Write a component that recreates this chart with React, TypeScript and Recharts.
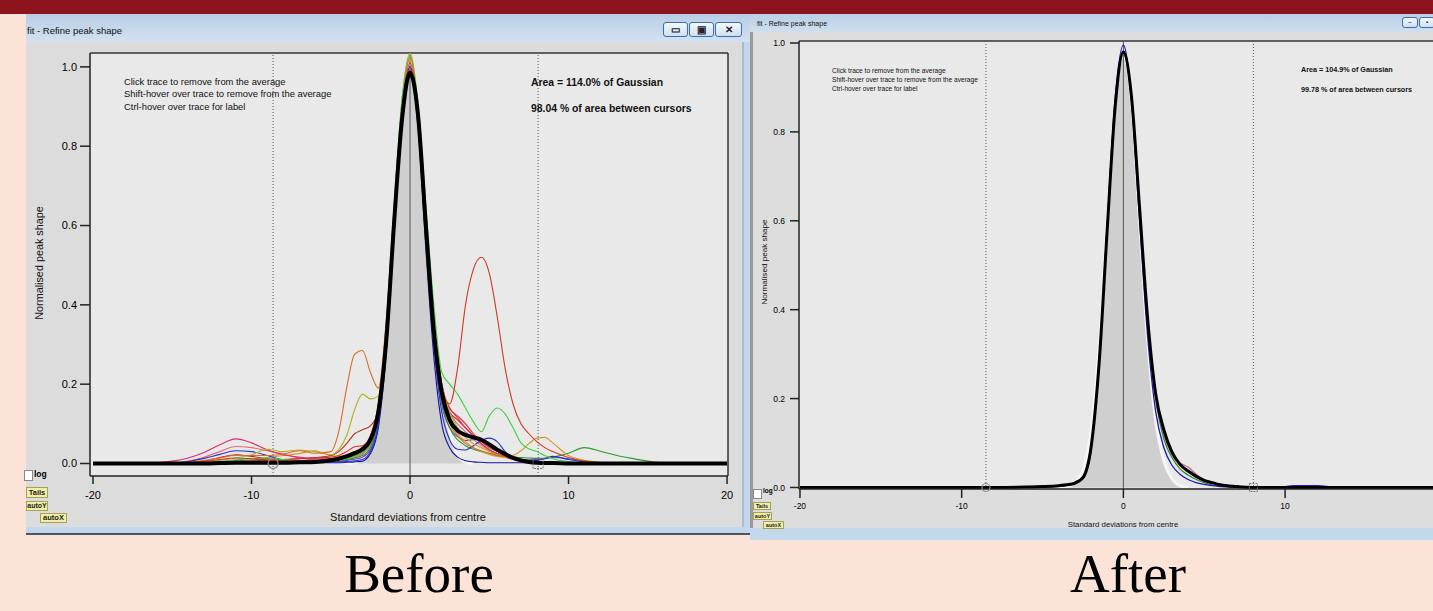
import React from 'react';
import {
  ComposedChart,
  Line,
  Area,
  XAxis,
  YAxis,
  ReferenceLine,
  ReferenceDot,
  CartesianGrid,
} from 'recharts';

const _ = null;

const beforeXTicks = [-20, -10, 0, 10, 20];
const afterXTicks = [-20, -10, 0, 10];
const yTicks = [0, 0.2, 0.4, 0.6, 0.8, 1.0];

// ---------- "Before" panel: shared x grid (standard deviations) ----------
const beforeX = [
  -20, -17, -15, -14, -13, -12, -11, -10, -9, -8,
  -7, -6, -5, -4.5, -4, -3.5, -3, -2.5, -2, -1.5,
  -1, -0.5, 0, 0.5, 1, 1.5, 2, 2.5, 3, 3.5,
  4, 4.5, 5, 5.5, 6, 6.5, 7, 7.5, 8, 8.5,
  9, 10, 11, 12, 13, 14, 15, 16, 20,
];

const beforeAvg = [
  0, 0, 0, 0, 0, 0.001, 0.002, 0.002, 0.002, 0.002,
  0.003, 0.004, 0.008, 0.012, 0.018, 0.026, 0.036, 0.06, 0.13, 0.31,
  0.61, 0.87, 0.985, 0.88, 0.6, 0.335, 0.18, 0.11, 0.083, 0.072,
  0.066, 0.06, 0.048, 0.035, 0.024, 0.014, 0.008, 0.004, 0.002, 0.001,
  0.001, 0, 0, 0, 0, 0, 0, 0, 0,
];

const beforeGauss = [
  _, _, _, _, _, _, _, _, _, _,
  _, _, _, _, 0, 0.002, 0.01, 0.04, 0.13, 0.32,
  0.6, 0.87, 0.98, 0.88, 0.62, 0.36, 0.18, 0.08, 0.02, 0.003,
  0, _, _, _, _, _, _, _, _, _,
  _, _, _, _, _, _, _, _, _,
];

const beforeRed = [
  _, _, 0, 0.002, 0.005, 0.01, 0.014, 0.012, 0.009, 0.007,
  0.007, 0.009, 0.012, 0.016, 0.022, 0.03, 0.042, 0.07, 0.15, 0.34,
  0.63, 0.89, 1.01, 0.88, 0.6, 0.34, 0.19, 0.15, 0.24, 0.4,
  0.49, 0.52, 0.48, 0.37, 0.24, 0.15, 0.1, 0.075, 0.055, 0.04,
  0.03, 0.015, 0.006, 0.002, 0, _, _, _, _,
];

const beforeOrange = [
  _, _, 0, 0.003, 0.008, 0.014, 0.02, 0.02, 0.02, 0.024,
  0.032, 0.026, 0.03, 0.08, 0.19, 0.275, 0.285, 0.23, 0.19, 0.36,
  0.64, 0.9, 1.025, 0.89, 0.6, 0.33, 0.17, 0.1, 0.07, 0.05,
  0.04, 0.032, 0.026, 0.02, 0.016, 0.012, 0.008, 0.006, 0.004, 0.003,
  0.002, 0, _, _, _, _, _, _, _,
];

const beforeOlive = [
  _, _, _, 0, 0.004, 0.008, 0.014, 0.022, 0.036, 0.03,
  0.034, 0.03, 0.022, 0.035, 0.07, 0.135, 0.175, 0.163, 0.17, 0.35,
  0.65, 0.92, 1.035, 0.9, 0.62, 0.36, 0.2, 0.13, 0.09, 0.065,
  0.05, 0.04, 0.03, 0.022, 0.016, 0.012, 0.008, 0.005, 0.003, 0.002,
  0.001, 0, _, _, _, _, _, _, _,
];

const beforeBrown = [
  _, _, _, 0, 0.006, 0.015, 0.022, 0.018, 0.012, 0.01,
  0.012, 0.015, 0.02, 0.03, 0.05, 0.075, 0.085, 0.095, 0.13, 0.33,
  0.62, 0.88, 1.0, 0.88, 0.61, 0.36, 0.2, 0.13, 0.11, 0.09,
  0.07, 0.05, 0.035, 0.025, 0.018, 0.012, 0.008, 0.005, 0.003, 0.002,
  0.001, 0, _, _, _, _, _, _, _,
];

const beforePink = [
  _, 0, 0.006, 0.014, 0.028, 0.047, 0.062, 0.052, 0.034, 0.022,
  0.016, 0.012, 0.012, 0.013, 0.016, 0.02, 0.028, 0.05, 0.13, 0.32,
  0.61, 0.88, 0.995, 0.87, 0.6, 0.35, 0.19, 0.14, 0.115, 0.09,
  0.07, 0.05, 0.035, 0.025, 0.018, 0.012, 0.008, 0.005, 0.003, 0.002,
  0.001, 0, _, _, _, _, _, _, _,
];

const beforeRose = [
  _, _, 0, 0.006, 0.016, 0.03, 0.043, 0.04, 0.032, 0.024,
  0.014, 0.009, 0.008, 0.009, 0.012, 0.016, 0.024, 0.045, 0.12, 0.31,
  0.6, 0.87, 0.99, 0.87, 0.6, 0.35, 0.2, 0.13, 0.1, 0.08,
  0.06, 0.045, 0.032, 0.022, 0.015, 0.01, 0.006, 0.004, 0.002, 0.001,
  0, _, _, _, _, _, _, _, _,
];

const beforeBlue = [
  _, _, 0, 0.005, 0.013, 0.023, 0.032, 0.03, 0.02, 0.009,
  0.005, 0.003, 0.003, 0.004, 0.005, 0.007, 0.01, 0.03, 0.1, 0.3,
  0.6, 0.88, 1.0, 0.86, 0.56, 0.3, 0.13, 0.06, 0.036, 0.034,
  0.045, 0.058, 0.064, 0.055, 0.03, 0.015, 0.01, 0.008, 0.008, 0.012,
  0.018, 0.01, 0.004, 0, _, _, _, _, _,
];

const beforeGreen = [
  _, _, _, 0, 0.002, 0.005, 0.009, 0.012, 0.014, 0.01,
  0.006, 0.005, 0.006, 0.008, 0.012, 0.018, 0.026, 0.05, 0.14, 0.35,
  0.65, 0.92, 1.03, 0.91, 0.65, 0.4, 0.23, 0.2, 0.175, 0.14,
  0.105, 0.08, 0.12, 0.14, 0.125, 0.09, 0.052, 0.037, 0.03, 0.02,
  0.012, 0.005, 0, _, _, _, _, _, _,
];

const beforeDarkGreen = [
  _, _, _, _, 0, 0.003, 0.006, 0.008, 0.008, 0.006,
  0.005, 0.005, 0.006, 0.007, 0.01, 0.014, 0.02, 0.04, 0.12, 0.31,
  0.6, 0.87, 0.99, 0.87, 0.59, 0.33, 0.16, 0.09, 0.06, 0.045,
  0.036, 0.03, 0.025, 0.021, 0.018, 0.016, 0.015, 0.014, 0.013, 0.013,
  0.016, 0.026, 0.04, 0.031, 0.021, 0.013, 0.006, 0.001, _,
];

const beforeGold = [
  _, _, _, _, _, 0, 0.003, 0.008, 0.015, 0.02,
  0.025, 0.032, 0.02, 0.018, 0.02, 0.025, 0.032, 0.055, 0.14, 0.34,
  0.63, 0.9, 1.02, 0.89, 0.61, 0.34, 0.17, 0.105, 0.075, 0.055,
  0.04, 0.03, 0.023, 0.018, 0.016, 0.02, 0.032, 0.05, 0.064, 0.066,
  0.052, 0.02, 0.008, 0.003, 0, _, _, _, _,
];

const beforePurple = [
  _, _, _, _, 0, 0.004, 0.008, 0.008, 0.006, 0.005,
  0.004, 0.004, 0.005, 0.006, 0.008, 0.011, 0.016, 0.035, 0.11, 0.3,
  0.59, 0.87, 0.99, 0.87, 0.58, 0.32, 0.15, 0.09, 0.068, 0.058,
  0.06, 0.06, 0.05, 0.035, 0.022, 0.014, 0.01, 0.009, 0.01, 0.013,
  0.015, 0.012, 0.005, 0, _, _, _, _, _,
];

const beforeNavy = [
  _, _, _, _, _, 0, 0.002, 0.003, 0.003, 0.002,
  0.002, 0.002, 0.002, 0.002, 0.003, 0.004, 0.006, 0.025, 0.09, 0.28,
  0.58, 0.87, 0.99, 0.85, 0.54, 0.27, 0.1, 0.04, 0.016, 0.007,
  0.004, 0.003, 0.002, 0.002, 0.002, 0.002, 0.002, 0.002, 0.002, 0.002,
  0.001, 0, _, _, _, _, _, _, _,
];

const beforeScarlet = [
  _, _, _, _, _, 0, 0.004, 0.006, 0.008, 0.01,
  0.012, 0.014, 0.016, 0.02, 0.03, 0.042, 0.045, 0.06, 0.13, 0.33,
  0.62, 0.89, 1.0, 0.88, 0.61, 0.36, 0.2, 0.14, 0.12, 0.1,
  0.075, 0.055, 0.04, 0.03, 0.02, 0.013, 0.008, 0.005, 0.004, 0.003,
  0.002, 0, _, _, _, _, _, _, _,
];

const beforeTraces = [
  { key: 'navy', color: '#1414a0', values: beforeNavy },
  { key: 'purple', color: '#8a3cc8', values: beforePurple },
  { key: 'rose', color: '#e86878', values: beforeRose },
  { key: 'darkGreen', color: '#2a9a2a', values: beforeDarkGreen },
  { key: 'gold', color: '#d6982c', values: beforeGold },
  { key: 'brown', color: '#b43222', values: beforeBrown },
  { key: 'scarlet', color: '#e42a2a', values: beforeScarlet },
  { key: 'pink', color: '#d4306c', values: beforePink },
  { key: 'blue', color: '#2434d0', values: beforeBlue },
  { key: 'olive', color: '#b0b020', values: beforeOlive },
  { key: 'green', color: '#3cd23c', values: beforeGreen },
  { key: 'orange', color: '#dd6a2c', values: beforeOrange },
  { key: 'red', color: '#cc3a22', values: beforeRed },
];

const beforeCursors = [-8.64, 8.08];

// ---------- "After" panel ----------
const afterX = [
  -20, -15, -10, -8, -6, -5, -4, -3.5, -3, -2.5,
  -2, -1.5, -1, -0.5, 0, 0.5, 1, 1.5, 2, 2.5,
  3, 3.5, 4, 4.5, 5, 5.5, 6, 7, 8, 10,
  10.5, 12, 13, 16, 20,
];

const afterAvg = [
  0, 0, 0, 0, 0.001, 0.002, 0.004, 0.006, 0.01, 0.022,
  0.09, 0.28, 0.58, 0.86, 0.98, 0.88, 0.63, 0.38, 0.21, 0.13,
  0.08, 0.052, 0.037, 0.025, 0.016, 0.011, 0.006, 0.002, 0, 0,
  0, 0, 0, 0, 0,
];

const afterGauss = [
  _, _, _, _, _, _, 0, 0.002, 0.01, 0.04,
  0.13, 0.32, 0.6, 0.87, 0.97, 0.87, 0.6, 0.33, 0.15, 0.06,
  0.02, 0.004, 0, _, _, _, _, _, _, _,
  _, _, _, _, _,
];

const afterBlue = [
  _, _, _, _, 0.001, 0.002, 0.003, 0.005, 0.008, 0.02,
  0.085, 0.28, 0.59, 0.88, 0.995, 0.87, 0.6, 0.34, 0.17, 0.09,
  0.05, 0.03, 0.018, 0.011, 0.007, 0.004, 0.002, 0.001, 0.001, 0.002,
  0.004, 0.004, 0, _, _,
];

const afterGreen = [
  _, _, _, _, _, 0.002, 0.004, 0.006, 0.01, 0.022,
  0.09, 0.285, 0.59, 0.87, 0.975, 0.875, 0.62, 0.37, 0.2, 0.11,
  0.068, 0.042, 0.028, 0.018, 0.011, 0.006, 0.003, 0.001, 0, _,
  _, _, _, _, _,
];

const afterMauve = [
  _, _, _, _, _, _, _, _, 0.012, 0.025,
  0.095, 0.29, 0.59, 0.87, 0.98, 0.88, 0.63, 0.38, 0.21, 0.12,
  0.075, 0.055, 0.046, 0.03, 0.016, 0.008, 0.004, 0.001, 0, _,
  _, _, _, _, _,
];

const afterTraces = [
  { key: 'green', color: '#2a8a2a', values: afterGreen },
  { key: 'mauve', color: '#b06878', values: afterMauve },
  { key: 'blue', color: '#1c1cb4', values: afterBlue },
];

const afterCursors = [-8.5, 8.04];

function buildRows(xs, avg, gauss, traces) {
  return xs.map((x, i) => {
    const row: any = { x, avg: avg[i], gauss: gauss[i] };
    traces.forEach((t) => {
      row[t.key] = t.values[i];
    });
    return row;
  });
}

const beforeRows = buildRows(beforeX, beforeAvg, beforeGauss, beforeTraces);
const afterRows = buildRows(afterX, afterAvg, afterGauss, afterTraces);

const FONT = '"Liberation Sans", Arial, sans-serif';

function PeakPanel(props) {
  const {
    rows, traces, width, height, margin, yAxisWidth, xDomain, yDomain, cursors, xTicks,
    tickFont, xTickLen, yTickLen, xTickGap, yTickGap, avgWidth, traceWidth,
    rightBorder, markerSize,
  } = props;
  const tickStyle = { fontSize: tickFont, fill: '#000', fontFamily: FONT };
  return (
    <ComposedChart width={width} height={height} data={rows} margin={margin}>
      <CartesianGrid horizontal={false} vertical={false} fill="#e9e9e9" />
      <XAxis
        type="number"
        dataKey="x"
        domain={xDomain}
        allowDataOverflow
        ticks={xTicks}
        interval={0}
        height={30}
        tickSize={xTickLen}
        tickMargin={xTickGap}
        axisLine={{ stroke: '#222', strokeWidth: 1.5 }}
        tickLine={{ stroke: '#222', strokeWidth: 1.5 }}
        tick={tickStyle}
      />
      <YAxis
        type="number"
        domain={yDomain}
        allowDataOverflow
        ticks={yTicks}
        interval={0}
        width={yAxisWidth}
        tickSize={yTickLen}
        tickMargin={yTickGap}
        tickFormatter={(v) => v.toFixed(1)}
        axisLine={{ stroke: '#222', strokeWidth: 1.5 }}
        tickLine={{ stroke: '#222', strokeWidth: 1.5 }}
        tick={tickStyle}
      />
      <ReferenceLine y={yDomain[1]} stroke="#333" strokeWidth={1.5} ifOverflow="visible" />
      {rightBorder && (
        <ReferenceLine x={xDomain[1]} stroke="#333" strokeWidth={1.5} ifOverflow="visible" />
      )}
      <Area
        type="monotone"
        dataKey="gauss"
        baseValue={0}
        fill="#cfcfcf"
        fillOpacity={1}
        stroke="#f6f6f6"
        strokeWidth={3}
        dot={false}
        activeDot={false}
        isAnimationActive={false}
      />
      <ReferenceLine x={0} stroke="#555" strokeWidth={1} />
      {cursors.map((c) => (
        <ReferenceLine key={c} x={c} stroke="#555" strokeDasharray="1 2" strokeWidth={1} />
      ))}
      {traces.map((t) => (
        <Line
          key={t.key}
          type="monotone"
          dataKey={t.key}
          stroke={t.color}
          strokeWidth={traceWidth}
          dot={false}
          activeDot={false}
          isAnimationActive={false}
        />
      ))}
      <Line
        type="monotone"
        dataKey="avg"
        stroke="#000"
        strokeWidth={avgWidth}
        dot={false}
        activeDot={false}
        isAnimationActive={false}
      />
      <ReferenceDot x={cursors[0]} y={0} r={markerSize / 2} fill="none" stroke="#8c8c8c" strokeWidth={1.2} />
      <ReferenceDot
        x={cursors[1]}
        y={0}
        r={markerSize / 2}
        shape={(p) => (
          <rect
            x={p.cx - markerSize / 2}
            y={p.cy - markerSize / 2}
            width={markerSize}
            height={markerSize}
            fill="none"
            stroke="#777"
            strokeDasharray="2 1"
            strokeWidth={1}
          />
        )}
      />
    </ComposedChart>
  );
}

const Txt = ({ x, cy, size, bold = false, center = false, children }) => (
  <div
    style={{
      position: 'absolute',
      left: x,
      top: cy - size * 0.6,
      fontSize: size,
      lineHeight: `${size * 1.2}px`,
      fontWeight: bold ? 700 : 400,
      whiteSpace: 'nowrap',
      color: '#111',
      transform: center ? 'translateX(-50%)' : undefined,
    }}
  >
    {children}
  </div>
);

const VTxt = ({ x, cy, size, children }) => (
  <div
    style={{
      position: 'absolute',
      left: x,
      top: cy,
      fontSize: size,
      whiteSpace: 'nowrap',
      color: '#111',
      transform: 'translate(-50%, -50%) rotate(-90deg)',
    }}
  >
    {children}
  </div>
);

const YellowBtn = ({ x, y, w, h, size, label }) => (
  <div
    style={{
      position: 'absolute',
      left: x,
      top: y,
      width: w,
      height: h,
      background: '#f1efa6',
      border: '1px solid #a4a25a',
      fontSize: size,
      lineHeight: `${h - 2}px`,
      fontWeight: 700,
      color: '#222',
      textAlign: 'center',
      boxSizing: 'border-box',
      whiteSpace: 'nowrap',
    }}
  >
    {label}
  </div>
);

const WinBtn = ({ x, y, w, h, glyph }) => (
  <div
    style={{
      position: 'absolute',
      left: x,
      top: y,
      width: w,
      height: h,
      border: '1px solid #3c6ea8',
      borderRadius: 3,
      background: 'linear-gradient(#f4f8fc, #cfdff0)',
      boxSizing: 'border-box',
      fontSize: h - 5,
      lineHeight: `${h - 2}px`,
      textAlign: 'center',
      color: '#223',
      fontWeight: 700,
    }}
  >
    {glyph}
  </div>
);

export default function App() {
  return (
    <div
      style={{
        position: 'absolute',
        left: 0,
        top: 0,
        width: 1433,
        height: 611,
        overflow: 'hidden',
        background: '#fbe4d7',
        fontFamily: FONT,
      }}
    >
      <div style={{ position: 'absolute', left: 0, top: 0, width: 1433, height: 14, background: '#8b141f' }} />

      {/* After window (behind) */}
      <div style={{ position: 'absolute', left: 750, top: 14, width: 700, height: 526, background: '#c4d8ec' }}>
        <div style={{ position: 'absolute', left: 0, top: 0, width: 700, height: 18, background: 'linear-gradient(#b9cee5, #d0dfee)' }} />
        <div style={{ position: 'absolute', left: 0, top: 18, width: 700, height: 496, background: '#dddddd', borderLeft: '3px solid #9a9a9a', boxSizing: 'border-box' }}>
          <div style={{ position: 'absolute', left: 0, top: 457, width: 7, height: 8, background: '#fff', border: '1px solid #888' }} />
          <div style={{ position: 'absolute', left: 10, top: 455, fontSize: 6.5, fontWeight: 700 }}>log</div>
          <YellowBtn x={0} y={470} w={18} h={8} size={5.5} label="Tails" />
          <YellowBtn x={0} y={480} w={19} h={8} size={5.5} label="autoY" />
          <YellowBtn x={10} y={489} w={21} h={8} size={5.5} label="autoX" />
        </div>
        <WinBtn x={652} y={3} w={16} h={11} glyph="–" />
        <WinBtn x={669} y={3} w={16} h={11} glyph="▪" />
      </div>
      <Txt x={757} cy={24} size={7}>fit - Refine peak shape</Txt>
      <div style={{ position: 'absolute', left: 752, top: 32 }}>
        <PeakPanel
          rows={afterRows}
          traces={afterTraces}
          width={720}
          height={500}
          margin={{ top: 9, right: 21, bottom: 13, left: 12 }}
          yAxisWidth={35}
          xDomain={[-20.06, 20.26]}
          yDomain={[-0.0034, 1.0045]}
          xTicks={afterXTicks}
          cursors={afterCursors}
          tickFont={8.5}
          xTickLen={9}
          yTickLen={9}
          xTickGap={5}
          yTickGap={5}
          avgWidth={3}
          traceWidth={1.3}
          rightBorder={false}
          markerSize={8}
        />
      </div>
      <div style={{ position: 'absolute', left: 832, top: 65.5, fontSize: 6.6, lineHeight: '9px', color: '#111', whiteSpace: 'nowrap' }}>
        <div>Click trace to remove from the average</div>
        <div>Shift-hover over trace to remove from the average</div>
        <div>Ctrl-hover over trace for label</div>
      </div>
      <Txt x={1301} cy={70} size={7.2} bold>Area = 104.9% of Gaussian</Txt>
      <Txt x={1301} cy={90} size={7.2} bold>99.78 % of area between cursors</Txt>
      <Txt x={1123} cy={525} size={7.8} center>Standard deviations from centre</Txt>
      <VTxt x={764} cy={262} size={8.1}>Normalised peak shape</VTxt>

      {/* Before window (front) */}
      <div style={{ position: 'absolute', left: 26, top: 14, width: 724, height: 521, background: '#c2d7ec', borderBottom: '2px solid #4a5563', boxSizing: 'border-box' }}>
        <div style={{ position: 'absolute', left: 0, top: 0, width: 724, height: 28, background: 'linear-gradient(#b8cde5, #d3e1f0)' }} />
        <div style={{ position: 'absolute', left: 0, top: 28, width: 716, height: 485, background: '#dcdcdc' }}>
          <div style={{ position: 'absolute', left: -2, top: 428, width: 7, height: 9, background: '#fff', border: '1px solid #888' }} />
          <div style={{ position: 'absolute', left: 8, top: 427, fontSize: 8.5, fontWeight: 700 }}>log</div>
          <YellowBtn x={0} y={445} w={22} h={11} size={7.5} label="Tails" />
          <YellowBtn x={0} y={459} w={22} h={10} size={7} label="autoY" />
          <YellowBtn x={14} y={471} w={27} h={10} size={7.5} label="autoX" />
        </div>
        <div style={{ position: 'absolute', left: 716, top: 28, width: 2, height: 485, background: '#a9bdd2' }} />
        <WinBtn x={637} y={8} w={25} h={15} glyph="▭" />
        <WinBtn x={663} y={8} w={25} h={15} glyph="▣" />
        <WinBtn x={689} y={8} w={27} h={15} glyph="✕" />
      </div>
      <Txt x={27} cy={31} size={9.5}>fit - Refine peak shape</Txt>
      <div style={{ position: 'absolute', left: 26, top: 42 }}>
        <PeakPanel
          rows={beforeRows}
          traces={beforeTraces}
          width={716}
          height={483}
          margin={{ top: 11, right: 14, bottom: 19, left: 20 }}
          yAxisWidth={44}
          xDomain={[-20.19, 20.06]}
          yDomain={[-0.0315, 1.035]}
          xTicks={beforeXTicks}
          cursors={beforeCursors}
          tickFont={11}
          xTickLen={8}
          yTickLen={10}
          xTickGap={7}
          yTickGap={3}
          avgWidth={4}
          traceWidth={1.1}
          rightBorder={true}
          markerSize={10}
        />
      </div>
      <div style={{ position: 'absolute', left: 124, top: 75.75, fontSize: 9.4, lineHeight: '12.5px', color: '#111', whiteSpace: 'nowrap' }}>
        <div>Click trace to remove from the average</div>
        <div>Shift-hover over trace to remove from the average</div>
        <div>Ctrl-hover over trace for label</div>
      </div>
      <Txt x={531} cy={83} size={10.4} bold>Area = 114.0% of Gaussian</Txt>
      <Txt x={531} cy={109} size={10.4} bold>98.04 % of area between cursors</Txt>
      <Txt x={408} cy={518} size={11} center>Standard deviations from centre</Txt>
      <VTxt x={39} cy={263} size={10.8}>Normalised peak shape</VTxt>

      {/* captions */}
      <div style={{ position: 'absolute', left: 419, top: 546, transform: 'translateX(-50%)', fontFamily: '"Liberation Serif", "Times New Roman", serif', fontSize: 55, lineHeight: '55px', color: '#000', whiteSpace: 'nowrap' }}>
        Before
      </div>
      <div style={{ position: 'absolute', left: 1128, top: 546, transform: 'translateX(-50%)', fontFamily: '"Liberation Serif", "Times New Roman", serif', fontSize: 55, lineHeight: '55px', color: '#000', whiteSpace: 'nowrap' }}>
        After
      </div>
    </div>
  );
}
